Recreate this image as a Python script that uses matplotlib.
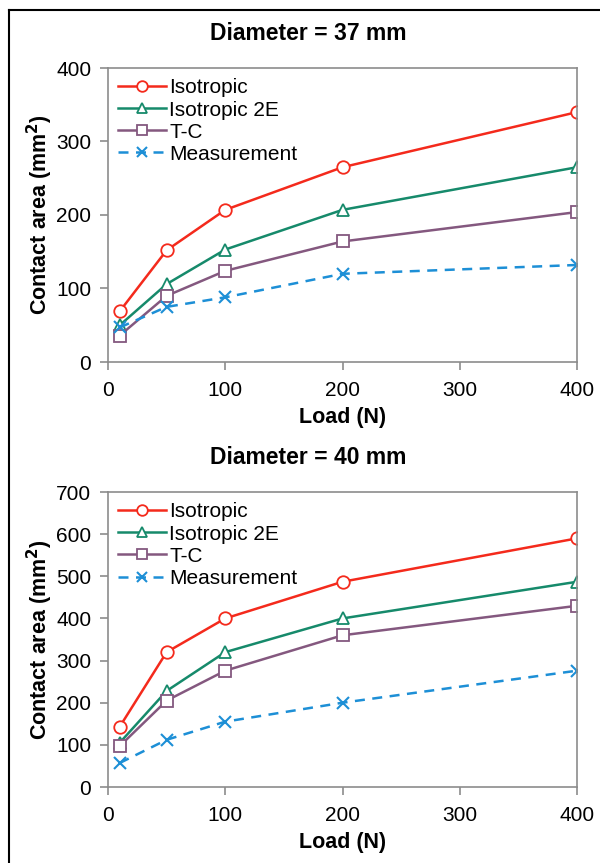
import matplotlib
matplotlib.use("Agg")
import matplotlib.pyplot as plt
from matplotlib.lines import Line2D

plt.rcParams['font.family'] = ['Liberation Sans', 'DejaVu Sans']

loads = [10, 50, 100, 200, 400]

iso_37 = [69, 152, 207, 265, 340]
iso2e_37 = [50, 106, 153, 207, 265]
tc_37 = [36, 90, 124, 164, 204]
meas_37 = [47, 75, 88, 120, 132]

iso_40 = [143, 320, 400, 487, 590]
iso2e_40 = [105, 228, 320, 400, 487]
tc_40 = [97, 205, 276, 360, 430]
meas_40 = [57, 112, 155, 200, 276]

titles = ['Diameter = 37 mm', 'Diameter = 40 mm']
ylims = [400, 700]
ysteps = [100, 100]

red = '#f42a1c'
green = '#168a6b'
purple = '#84587f'
blue = '#1d8fd6'
gray = '#8c8c8c'

fig = plt.figure(figsize=(6.0, 8.63), dpi=100)

# axes boxes in pixels (left, top, right, bottom)
W, H = 600, 863
boxes = [(108, 68, 577, 362), (108, 492, 577, 787)]

data = [(iso_37, iso2e_37, tc_37, meas_37), (iso_40, iso2e_40, tc_40, meas_40)]

for i in range(2):
    x0, y0, x1, y1 = boxes[i]
    ax = fig.add_axes([x0 / W, 1 - y1 / H, (x1 - x0) / W, (y1 - y0) / H])
    iso, iso2e, tc, meas = data[i]
    ax.plot(loads, iso, color=red, lw=1.8, marker='o', ms=9, mfc='white', mec=red, mew=1.3, label='Isotropic')
    ax.plot(loads, iso2e, color=green, lw=1.8, marker='^', ms=9, mfc='white', mec=green, mew=1.3, label='Isotropic 2E')
    ax.plot(loads, tc, color=purple, lw=1.8, marker='s', ms=9, mfc='white', mec=purple, mew=1.3, label='T-C')
    ax.plot(loads, meas, color=blue, lw=1.8, ls=(0, (4, 3)), marker='x', ms=9, mec=blue, mew=1.5, label='Measurement')
    ax.set_xlim(0, 400)
    ax.set_ylim(0, ylims[i])
    ax.set_xticks(range(0, 401, 100))
    ax.set_yticks(range(0, ylims[i] + 1, ysteps[i]))
    for s in ax.spines.values():
        s.set_color(gray)
        s.set_linewidth(1.2)
    ax.tick_params(direction='out', length=6, width=1.2, color=gray, labelsize=15)
    ax.tick_params(axis='y', pad=6)
    ax.tick_params(axis='x', pad=8)
    ax.set_xlabel('Load (N)', fontsize=15.5, fontweight='bold', labelpad=5)
    ax.set_ylabel('Contact area (mm$^\\mathbf{2}$)', fontsize=15.5, fontweight='bold', labelpad=1)
    # title is centred on the figure rather than on the plot box
    ax.set_title(titles[i], fontsize=16.5, fontweight='bold', pad=20, x=(308 - x0) / (x1 - x0))
    ax.legend(loc='upper left', frameon=False, fontsize=15, handlelength=2.3,
              handletextpad=0.15, labelspacing=0.15, borderaxespad=0.2, borderpad=0.3,
              markerscale=0.85)

# partial frame around the figure
fig.add_artist(Line2D([9 / W, 9 / W], [0, 1 - 10 / H], color='black', lw=1.5))
fig.add_artist(Line2D([9 / W, 1], [1 - 10 / H, 1 - 10 / H], color='black', lw=1.5))

fig.savefig('out.png', dpi=100)
